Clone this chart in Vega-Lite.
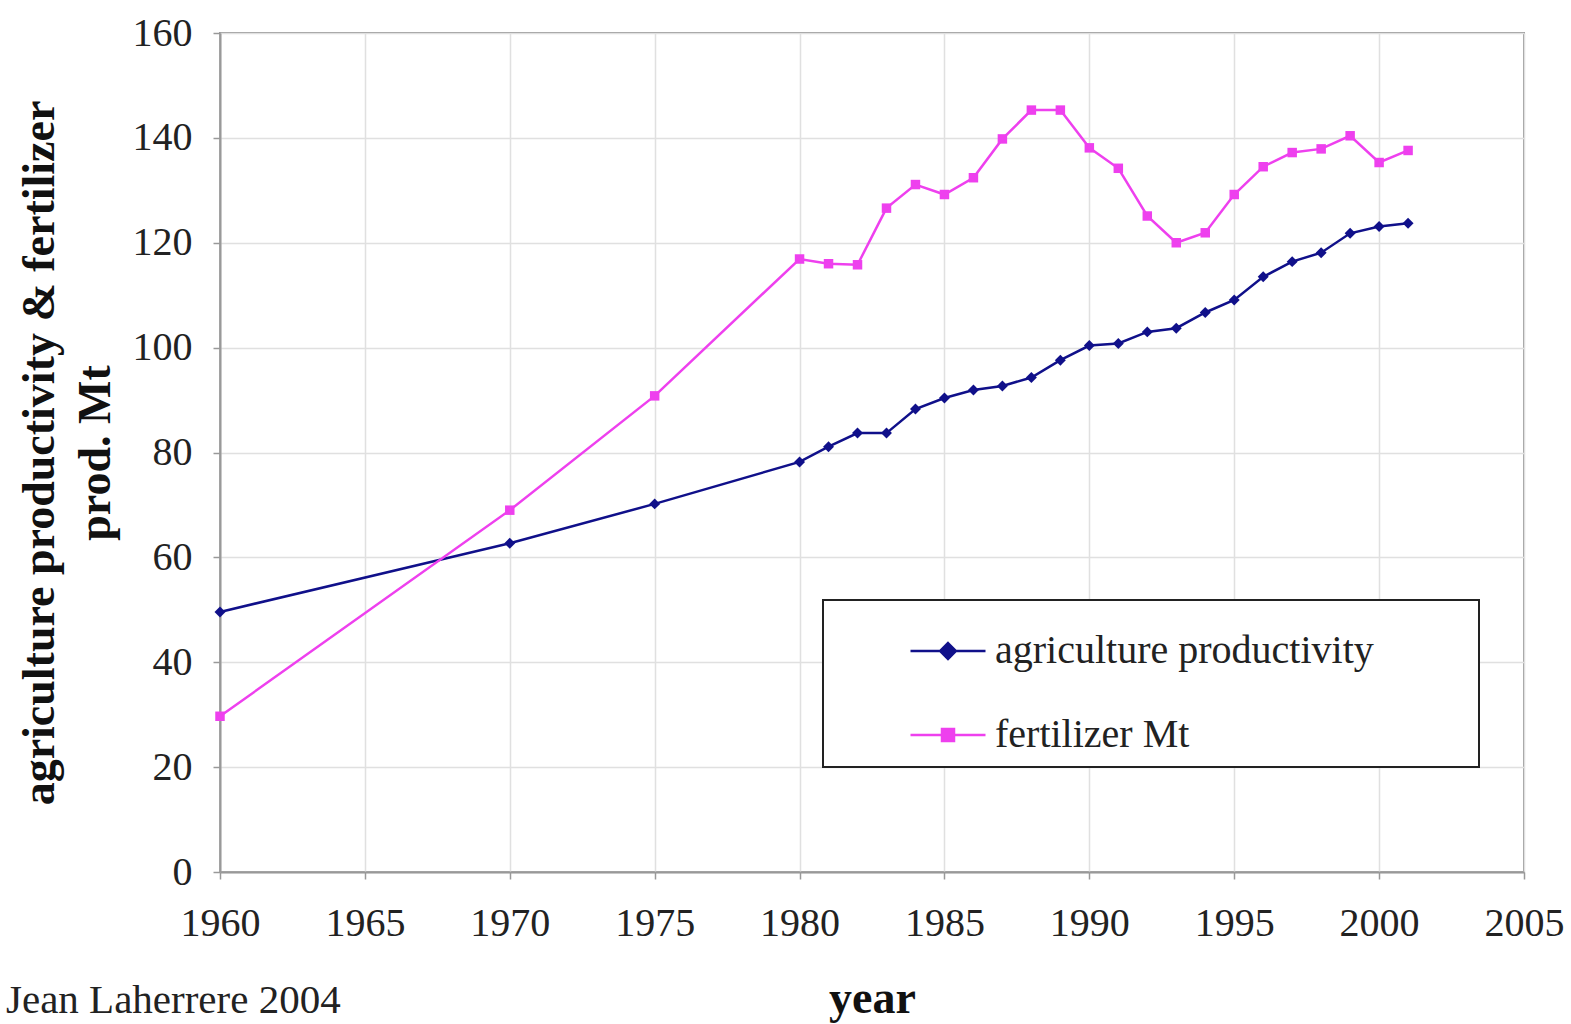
{
  "$schema": "https://vega.github.io/schema/vega-lite/v6.json",
  "width": 1304,
  "height": 839,
  "autosize": "none",
  "padding": {"left": 220, "top": 33, "right": 47, "bottom": 152},
  "background": "white",
  "title": {
    "text": "Jean Laherrere 2004",
    "orient": "bottom",
    "anchor": "start",
    "frame": "bounds",
    "font": "Liberation Serif",
    "fontSize": 41,
    "fontWeight": "normal",
    "color": "#222",
    "offset": -40,
    "dx": -10
  },
  "config": {
    "view": {"stroke": "#999", "strokeWidth": 2},
    "axis": {
      "labelFont": "Liberation Serif",
      "labelFontSize": 40,
      "labelColor": "#222",
      "titleFont": "Liberation Serif",
      "titleFontSize": 46,
      "titleFontWeight": "bold",
      "titleColor": "#111",
      "gridColor": "#e0e0e0",
      "gridWidth": 1.5,
      "domainColor": "#999",
      "domainWidth": 2,
      "tickColor": "#999",
      "tickSize": 7,
      "tickWidth": 1.5
    }
  },
  "data": {
    "values": [
      {"year": 1960, "series": "agriculture productivity", "value": 49.6},
      {"year": 1970, "series": "agriculture productivity", "value": 62.7},
      {"year": 1975, "series": "agriculture productivity", "value": 70.2},
      {"year": 1980, "series": "agriculture productivity", "value": 78.2},
      {"year": 1981, "series": "agriculture productivity", "value": 81.1},
      {"year": 1982, "series": "agriculture productivity", "value": 83.7},
      {"year": 1983, "series": "agriculture productivity", "value": 83.7},
      {"year": 1984, "series": "agriculture productivity", "value": 88.3},
      {"year": 1985, "series": "agriculture productivity", "value": 90.4},
      {"year": 1986, "series": "agriculture productivity", "value": 91.9},
      {"year": 1987, "series": "agriculture productivity", "value": 92.7},
      {"year": 1988, "series": "agriculture productivity", "value": 94.3},
      {"year": 1989, "series": "agriculture productivity", "value": 97.6},
      {"year": 1990, "series": "agriculture productivity", "value": 100.4},
      {"year": 1991, "series": "agriculture productivity", "value": 100.8},
      {"year": 1992, "series": "agriculture productivity", "value": 103.0},
      {"year": 1993, "series": "agriculture productivity", "value": 103.7},
      {"year": 1994, "series": "agriculture productivity", "value": 106.7},
      {"year": 1995, "series": "agriculture productivity", "value": 109.1},
      {"year": 1996, "series": "agriculture productivity", "value": 113.5},
      {"year": 1997, "series": "agriculture productivity", "value": 116.4},
      {"year": 1998, "series": "agriculture productivity", "value": 118.1},
      {"year": 1999, "series": "agriculture productivity", "value": 121.8},
      {"year": 2000, "series": "agriculture productivity", "value": 123.1},
      {"year": 2001, "series": "agriculture productivity", "value": 123.7},
      {"year": 1960, "series": "fertilizer Mt", "value": 29.7},
      {"year": 1970, "series": "fertilizer Mt", "value": 69.0},
      {"year": 1975, "series": "fertilizer Mt", "value": 90.8},
      {"year": 1980, "series": "fertilizer Mt", "value": 116.9},
      {"year": 1981, "series": "fertilizer Mt", "value": 116.0},
      {"year": 1982, "series": "fertilizer Mt", "value": 115.8},
      {"year": 1983, "series": "fertilizer Mt", "value": 126.6},
      {"year": 1984, "series": "fertilizer Mt", "value": 131.1},
      {"year": 1985, "series": "fertilizer Mt", "value": 129.2},
      {"year": 1986, "series": "fertilizer Mt", "value": 132.4},
      {"year": 1987, "series": "fertilizer Mt", "value": 139.8},
      {"year": 1988, "series": "fertilizer Mt", "value": 145.3},
      {"year": 1989, "series": "fertilizer Mt", "value": 145.3},
      {"year": 1990, "series": "fertilizer Mt", "value": 138.1},
      {"year": 1991, "series": "fertilizer Mt", "value": 134.2},
      {"year": 1992, "series": "fertilizer Mt", "value": 125.1},
      {"year": 1993, "series": "fertilizer Mt", "value": 120.0},
      {"year": 1994, "series": "fertilizer Mt", "value": 121.9},
      {"year": 1995, "series": "fertilizer Mt", "value": 129.2},
      {"year": 1996, "series": "fertilizer Mt", "value": 134.5},
      {"year": 1997, "series": "fertilizer Mt", "value": 137.2},
      {"year": 1998, "series": "fertilizer Mt", "value": 137.9},
      {"year": 1999, "series": "fertilizer Mt", "value": 140.4},
      {"year": 2000, "series": "fertilizer Mt", "value": 135.3},
      {"year": 2001, "series": "fertilizer Mt", "value": 137.6}
    ]
  },
  "encoding": {
    "x": {
      "field": "year",
      "type": "quantitative",
      "scale": {"domain": [1960, 2005], "nice": false, "zero": false},
      "axis": {
        "title": "year",
        "values": [1960, 1965, 1970, 1975, 1980, 1985, 1990, 1995, 2000, 2005],
        "format": "d",
        "labelPadding": 24,
        "labelFlush": false,
        "labelOverlap": false,
        "titleY": 140,
        "titleBaseline": "alphabetic"
      }
    },
    "y": {
      "field": "value",
      "type": "quantitative",
      "scale": {"domain": [0, 160], "nice": false},
      "axis": {
        "title": ["agriculture productivity & fertilizer", "prod. Mt"],
        "values": [0, 20, 40, 60, 80, 100, 120, 140, 160],
        "labelPadding": 21,
        "titleAngle": -90,
        "titleX": -203,
        "titleY": 419.5,
        "titleAlign": "center",
        "titleBaseline": "top",
        "titleLineHeight": 56
      }
    },
    "color": {
      "field": "series",
      "type": "nominal",
      "scale": {
        "domain": ["agriculture productivity", "fertilizer Mt"],
        "range": ["#10108a", "#ee40ee"]
      }
    }
  },
  "layer": [
    {
      "mark": {"type": "line", "strokeWidth": 2.5},
      "encoding": {
        "color": {
          "field": "series",
          "type": "nominal",
          "scale": {
            "domain": ["agriculture productivity", "fertilizer Mt"],
            "range": ["#10108a", "#ee40ee"]
          },
          "legend": {
            "title": ".",
            "titleOrient": "right",
            "titleFontSize": 10,
            "titleColor": "white",
            "titlePadding": 90,
            "orient": "none",
            "legendX": 603,
            "legendY": 567,
            "padding": 12,
            "strokeColor": "#222",
            "fillColor": "white",
            "symbolOffset": 74,
            "symbolSize": 5625,
            "symbolStrokeWidth": 2.5,
            "labelOffset": 8,
            "labelFont": "Liberation Serif",
            "labelFontSize": 40,
            "labelColor": "#222",
            "labelLimit": 0,
            "rowPadding": 25,
            "encode": {
              "symbols": {
                "update": {
                  "shape": {"signal": "datum.value === 'fertilizer Mt' ? 'M-1,0H1M-0.16,-0.16H0.16V0.16H-0.16Z' : 'M-1,0H1M0,-0.21L0.21,0L0,0.21L-0.21,0Z'"},
                  "fill": {"scale": "color", "field": "value"},
                  "stroke": {"scale": "color", "field": "value"},
                  "strokeWidth": {"value": 2.5}
                }
              },
              "legend": {
                "update": {"strokeWidth": {"value": 2}}
              }
            }
          }
        }
      }
    },
    {
      "transform": [{"filter": "datum.series === 'agriculture productivity'"}],
      "mark": {"type": "point", "filled": true, "opacity": 1, "size": 120, "shape": "diamond"},
      "encoding": {
        "color": {"field": "series", "type": "nominal", "legend": null}
      }
    },
    {
      "transform": [{"filter": "datum.series === 'fertilizer Mt'"}],
      "mark": {"type": "point", "filled": true, "opacity": 1, "size": 90, "shape": "square"},
      "encoding": {
        "color": {"field": "series", "type": "nominal", "legend": null}
      }
    }
  ]
}
